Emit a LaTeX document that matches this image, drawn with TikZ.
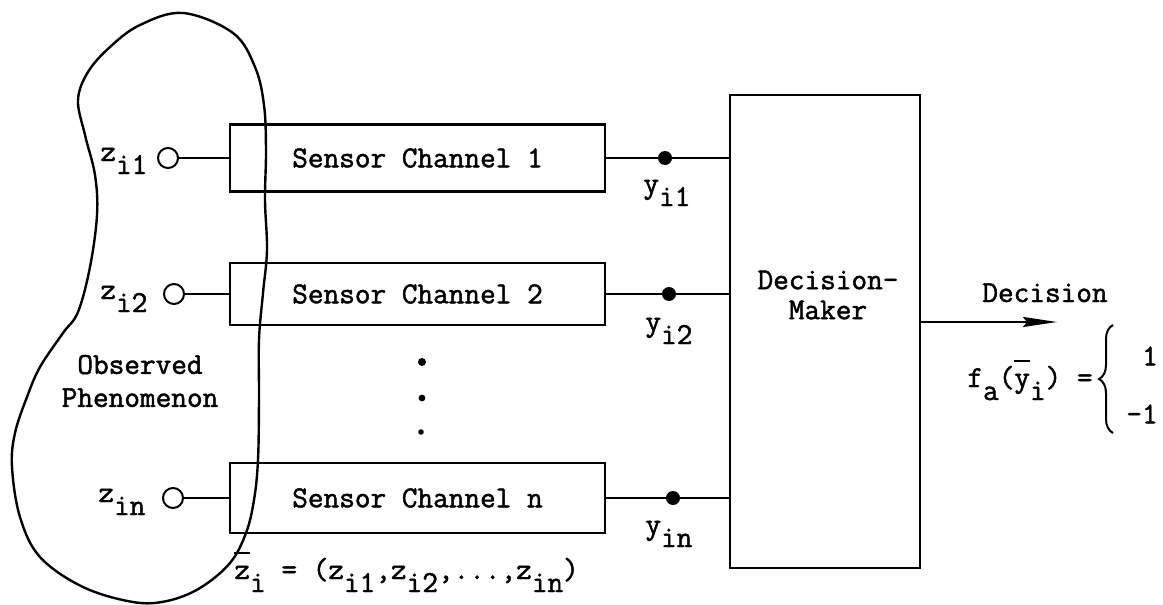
\documentclass[tikz,border=0pt]{standalone}
\usepackage{fontspec}
\setmonofont{Latin Modern Mono}[FakeBold=1.6]
\usetikzlibrary{arrows.meta,decorations.pathreplacing}
% typed subscript: same face, dropped below the line
\newcommand{\lo}[1]{\raisebox{-6.5pt}{#1}}
% letter with a short bar over it
\newcommand{\barred}[1]{\makebox[0pt][l]{\rule[12.5pt]{0.5em}{0.9pt}}#1}
\begin{document}
\begin{tikzpicture}[x=0.5pt,y=-0.5pt,
  every node/.style={font=\fontsize{15.2}{15}\selectfont\ttfamily, inner sep=0pt},
  chan/.style={draw, line width=1.2pt, minimum width=187.5pt, minimum height=#1},
  tap/.style={circle, draw, line width=1pt, minimum size=10pt},
  junct/.style={circle, fill, minimum size=7pt},
  vdot/.style={circle, fill, minimum size=#1},
  wire/.style={line width=1pt},
  outline/.style={line width=1.2pt}
]
\useasboundingbox (0,0) rectangle (1163,605);

% the observed phenomenon, a free-hand outline
\draw[outline] plot[smooth cycle, tension=0.6] coordinates {
  (183,13) (233,33) (255,67) (264,105) (266,150) (265,200) (267,250)
  (263,293) (259,340) (259,400) (258,460) (254,500) (246,533) (230,563)
  (200,588) (167,601) (133,602) (83,587) (40,557) (20,517) (12,467)
  (15,433) (27,397) (40,367) (63,333) (78,312) (90,267) (97,215)
  (95,175) (85,135) (78,100) (88,72) (110,47) (140,25)};
\node[align=center] (obs) at (140,381) {Observed\\[1.5pt]Phenomenon};

% sensor channels
\node[chan=33.5pt] (c1) at (417.5,158) {Sensor Channel 1};
\node[chan=31pt]   (c2) at (417.5,294) {Sensor Channel 2};
\node[chan=35pt]   (cn) at (417.5,498) {Sensor Channel n};

% input taps
\node[tap] (t1) at (168,158) {};
\node[tap] (t2) at (174,294) {};
\node[tap] (tn) at (173,498) {};
\node[anchor=base west] (z1) at (100,161) {z\lo{i1}};
\node[anchor=base west] (z2) at (100,299) {z\lo{i2}};
\node[anchor=base west] (zn) at (98,502) {z\lo{in}};
\draw[wire] (t1) -- (c1);
\draw[wire] (t2) -- (c2);
\draw[wire] (tn) -- (cn);

% ellipsis between channels
\node[vdot=4pt]   (e1) at (422,362) {};
\node[vdot=3.4pt] (e2) at (422,398) {};
\node[vdot=2.8pt] (e3) at (421,432) {};

% decision maker
\node[draw, line width=1.2pt, minimum width=95pt, minimum height=236.5pt] (dm) at (825,331.5) {};
\node[align=center] (dmtext) at (828,295) {Decision-\\Maker};

% channel outputs
\node[junct] (d1) at (665,158) {};
\node[junct] (d2) at (669,294) {};
\node[junct] (dn) at (673,498) {};
\draw[wire] (c1) -- (d1) -- (d1 -| dm.west);
\draw[wire] (c2) -- (d2) -- (d2 -| dm.west);
\draw[wire] (cn) -- (dn) -- (dn -| dm.west);
\node[anchor=base west] (y1) at (643,193) {y\lo{i1}};
\node[anchor=base west] (y2) at (645,331) {y\lo{i2}};
\node[anchor=base west] (yn) at (645,534) {y\lo{in}};

% observation vector
\node[anchor=base west] (zvec) at (234,579)
  {\barred{z}\lo{i} = (z\lo{i1},z\lo{i2},...,z\lo{in})};

% decision output
\coordinate (out) at (1057,322);
\draw[wire, -{Stealth[length=17pt,width=5pt,inset=2pt]}] (dm.east |- out) -- (out);
\node[anchor=base] (declab) at (1045,302) {Decision};
\node[anchor=base west] (fa) at (967,387) {f\lo{a}(\barred{y}\lo{i}) =};
\coordinate (brlo) at (1113,433);
\coordinate (brhi) at (1113,325);
\draw[wire, decorate, decoration={brace, amplitude=7pt}] (brlo) -- (brhi);
\node (vp) at (1150,356) {1};
\node (vm) at (1142,414) {-1};
\end{tikzpicture}
\end{document}
